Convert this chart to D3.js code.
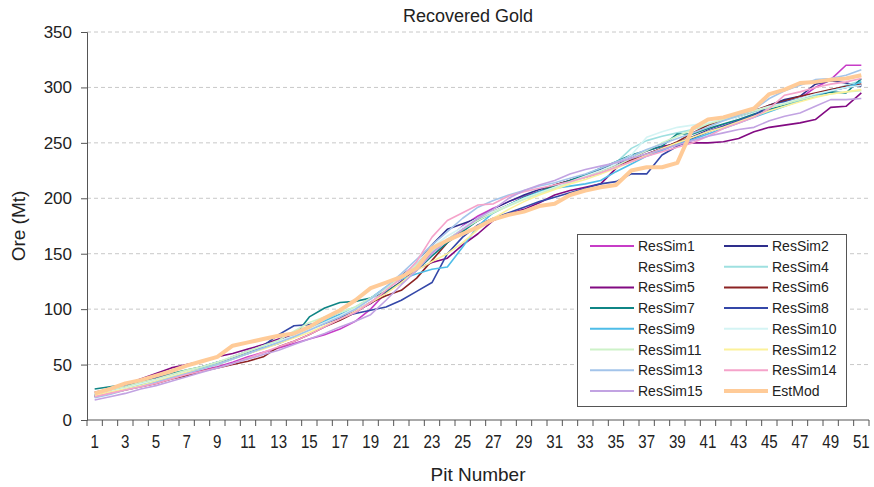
<!DOCTYPE html>
<html>
<head>
<meta charset="utf-8">
<script src="https://cdn.jsdelivr.net/npm/d3@7"></script>
<style>
  html, body { margin: 0; padding: 0; background: #fff; }
  svg text { font-family: "Liberation Sans", Arial, sans-serif; fill: #222; }
</style>
</head>
<body>
<svg id="chart" width="874" height="487"></svg>
<script>
// Pit numbers 1..51
const pits = d3.range(1, 52);
const xTickLabels = d3.range(1, 52, 2);
const yTicks = [0, 50, 100, 150, 200, 250, 300, 350];

// Cumulative recovered ore (Mt) per pit for each simulation
const resSim1  = [22,25,28,31,34,38,41,45,48,52,57,61,65,69,73,77,82,89,100,115,124,137,151,163,175,184,191,197,202,206,211,215,220,224,229,234,239,244,249,255,260,265,270,274,279,284,290,300,307,320,320];
const resSim2  = [23,26,29,33,37,41,44,48,51,57,62,67,72,79,84,89,95,100,108,118,130,141,158,172,177,182,190,197,203,208,212,216,221,226,231,236,241,246,251,256,262,267,272,277,284,289,292,303,306,304,301];
const resSim3  = [23,26,29,32,36,40,43,47,51,56,61,66,71,76,81,87,93,100,108,118,128,140,153,164,174,182,189,195,200,205,210,214,219,223,229,235,241,247,252,257,263,268,272,277,281,285,290,294,298,300,303];
const resSim4  = [22,25,28,32,35,39,43,47,51,56,60,65,70,75,82,90,97,102,110,119,128,140,152,163,172,180,187,194,200,205,210,215,219,222,232,245,252,256,259,262,266,270,274,278,282,286,290,293,297,302,306];
const resSim5  = [25,28,32,37,42,47,50,53,57,60,64,68,73,77,82,87,92,98,105,115,125,136,142,146,158,168,180,186,190,196,203,207,210,213,227,236,243,247,249,250,250,251,254,260,264,266,268,271,282,283,295];
const resSim6  = [21,24,27,30,33,37,40,44,47,50,53,57,66,71,77,84,90,97,106,112,117,128,144,160,172,180,188,194,200,206,212,216,219,224,229,235,240,245,251,259,266,271,275,279,284,288,292,295,298,301,303];
const resSim7  = [28,30,32,35,38,42,45,48,52,56,60,65,69,75,93,101,106,107,110,116,124,135,148,160,170,180,187,194,201,206,211,216,221,227,233,239,243,247,258,258,263,267,271,276,280,284,288,292,296,295,308];
const resSim8  = [22,26,30,35,38,41,44,48,52,56,61,67,77,85,86,88,93,96,99,102,108,116,124,150,165,176,182,187,192,197,201,205,209,213,215,222,222,239,247,254,260,265,270,275,283,287,290,293,297,300,302];
const resSim9  = [21,24,28,31,35,39,43,47,50,55,60,65,70,76,82,89,95,101,110,120,127,132,136,138,156,175,187,194,200,206,209,211,213,216,224,231,238,243,249,253,258,263,268,273,278,283,288,293,297,300,305];
const resSim10 = [23,26,29,33,36,40,44,48,52,57,62,67,71,76,82,88,94,101,109,119,129,142,156,166,174,182,188,194,200,205,210,215,220,225,231,239,255,260,264,266,268,271,275,279,283,286,290,294,297,300,302];
const resSim11 = [24,27,30,34,37,41,45,48,52,57,62,67,72,80,88,93,97,102,110,119,128,140,153,163,172,180,187,193,199,204,209,214,219,224,229,236,243,250,256,262,267,271,275,279,282,285,289,292,294,296,297];
const resSim12 = [22,25,28,31,35,39,43,46,50,55,60,64,69,74,79,85,91,98,106,114,124,135,143,150,160,172,182,190,197,203,208,213,217,222,227,233,239,245,250,255,260,264,269,274,279,283,287,291,294,296,298];
const resSim13 = [20,23,27,30,34,38,42,46,50,55,60,65,70,75,81,87,93,100,109,120,132,145,158,170,182,192,198,203,207,211,214,218,222,227,233,238,244,249,254,259,264,270,275,280,290,297,302,307,308,311,316];
const resSim14 = [21,24,27,30,33,37,41,44,47,51,56,61,66,71,77,84,91,97,106,117,128,143,165,180,187,194,195,202,206,209,212,215,219,223,228,233,238,242,246,250,256,263,268,273,281,293,296,300,303,305,308];
const resSim15 = [18,21,24,28,31,35,39,43,47,51,55,59,63,68,73,78,84,89,95,108,122,135,150,162,172,182,190,200,207,212,216,222,226,229,232,236,240,244,248,252,256,259,262,264,270,274,277,283,289,289,290];
const estMod   = [24,28,33,36,40,44,49,53,57,67,70,73,76,78,84,92,99,108,119,124,129,137,155,162,168,174,181,185,188,193,195,203,207,210,212,225,228,228,232,263,271,273,277,281,294,298,304,305,307,308,311];

const seriesNames = ["ResSim1","ResSim2","ResSim3","ResSim4","ResSim5","ResSim6","ResSim7","ResSim8",
                     "ResSim9","ResSim10","ResSim11","ResSim12","ResSim13","ResSim14","ResSim15","EstMod"];
const seriesValues = [resSim1,resSim2,resSim3,resSim4,resSim5,resSim6,resSim7,resSim8,
                      resSim9,resSim10,resSim11,resSim12,resSim13,resSim14,resSim15,estMod];
const seriesColors = ["#C73CC7","#2E2E8C","#FFFFFF","#9EE0E0","#820A82","#8C2323","#0F8585","#3447A8",
                      "#4EBDE8","#D4F4F4","#CDF2C8","#FCF19A","#A3C4EA","#F5A3CA","#C2A3E2","#FFCB98"];
const seriesWidths = seriesNames.map(n => n === "EstMod" ? 4 : 1.6);

const svg = d3.select("#chart");
const margin = {left: 87, right: 5, top: 32, bottom: 67};
const W = 874, H = 487;

const x = d3.scaleBand().domain(pits).range([margin.left, W - margin.right]).paddingInner(0).paddingOuter(0);
const y = d3.scaleLinear().domain([0, 350]).range([H - margin.bottom, margin.top]);
const cx = p => x(p) + x.bandwidth() / 2;

// Dashed horizontal gridlines
svg.append("g").selectAll("line").data(yTicks.filter(t => t > 0)).join("line")
  .attr("x1", margin.left).attr("x2", W - margin.right)
  .attr("y1", d => y(d)).attr("y2", d => y(d))
  .attr("stroke", "#c8c8c8").attr("stroke-width", 1).attr("stroke-dasharray", "4,3");

// Series lines
const line = d3.line().x((d, i) => cx(pits[i])).y(d => y(d));
svg.append("g").selectAll("path").data(seriesValues).join("path")
  .attr("d", d => line(d))
  .attr("fill", "none")
  .attr("stroke", (d, i) => seriesColors[i])
  .attr("stroke-width", (d, i) => seriesWidths[i])
  .attr("stroke-linejoin", "round");

// Y axis
const yAxis = svg.append("g").attr("transform", `translate(${margin.left},0)`)
  .call(d3.axisLeft(y).tickValues(yTicks).tickSize(6).tickPadding(9));
yAxis.select(".domain").attr("stroke", "#555");
yAxis.selectAll(".tick line").attr("stroke", "#555");
yAxis.selectAll("text").style("font-size", "17px").attr("fill", "#222");

// X axis: ticks at category boundaries, labels on every other pit
const xg = svg.append("g").attr("transform", `translate(0,${y(0)})`);
xg.append("line").attr("x1", margin.left).attr("x2", W - margin.right)
  .attr("y1", 0).attr("y2", 0).attr("stroke", "#555");
const boundaries = pits.map(p => x(p)).concat([x(51) + x.bandwidth()]);
xg.selectAll("line.tk").data(boundaries).join("line").attr("class", "tk")
  .attr("x1", d => d).attr("x2", d => d).attr("y1", 0).attr("y2", 6).attr("stroke", "#555");
xg.selectAll("text").data(xTickLabels).join("text")
  .attr("x", d => cx(d)).attr("y", 28)
  .attr("text-anchor", "middle").style("font-size", "18px")
  .attr("transform", d => `translate(${cx(d)},0) scale(0.84,1) translate(${-cx(d)},0)`)
  .text(d => d);

// Titles
svg.append("text").attr("x", 468).attr("y", 22).attr("text-anchor", "middle")
  .style("font-size", "18px").text("Recovered Gold");
svg.append("text").attr("x", 478).attr("y", 481).attr("text-anchor", "middle")
  .style("font-size", "19px").text("Pit Number");
svg.append("text").attr("transform", `translate(25,${(y(0) + y(350)) / 2}) rotate(-90)`)
  .attr("text-anchor", "middle").style("font-size", "19px").text("Ore (Mt)");

// Legend
const lg = svg.append("g");
lg.append("rect").attr("x", 577.5).attr("y", 234.5).attr("width", 269).attr("height", 172)
  .attr("fill", "#fff").attr("stroke", "#555").attr("stroke-width", 1);
const rowH = 20.7;
seriesNames.forEach((name, i) => {
  const col = i % 2, row = Math.floor(i / 2);
  const lx = col === 0 ? 590 : 724;
  const ly = 246 + row * rowH;
  lg.append("line").attr("x1", lx).attr("x2", lx + 44).attr("y1", ly).attr("y2", ly)
    .attr("stroke", seriesColors[i]).attr("stroke-width", name === "EstMod" ? 4 : 2);
  lg.append("text").attr("x", lx + 48).attr("y", ly + 5).style("font-size", "14px").text(name);
});
</script>
</body>
</html>
